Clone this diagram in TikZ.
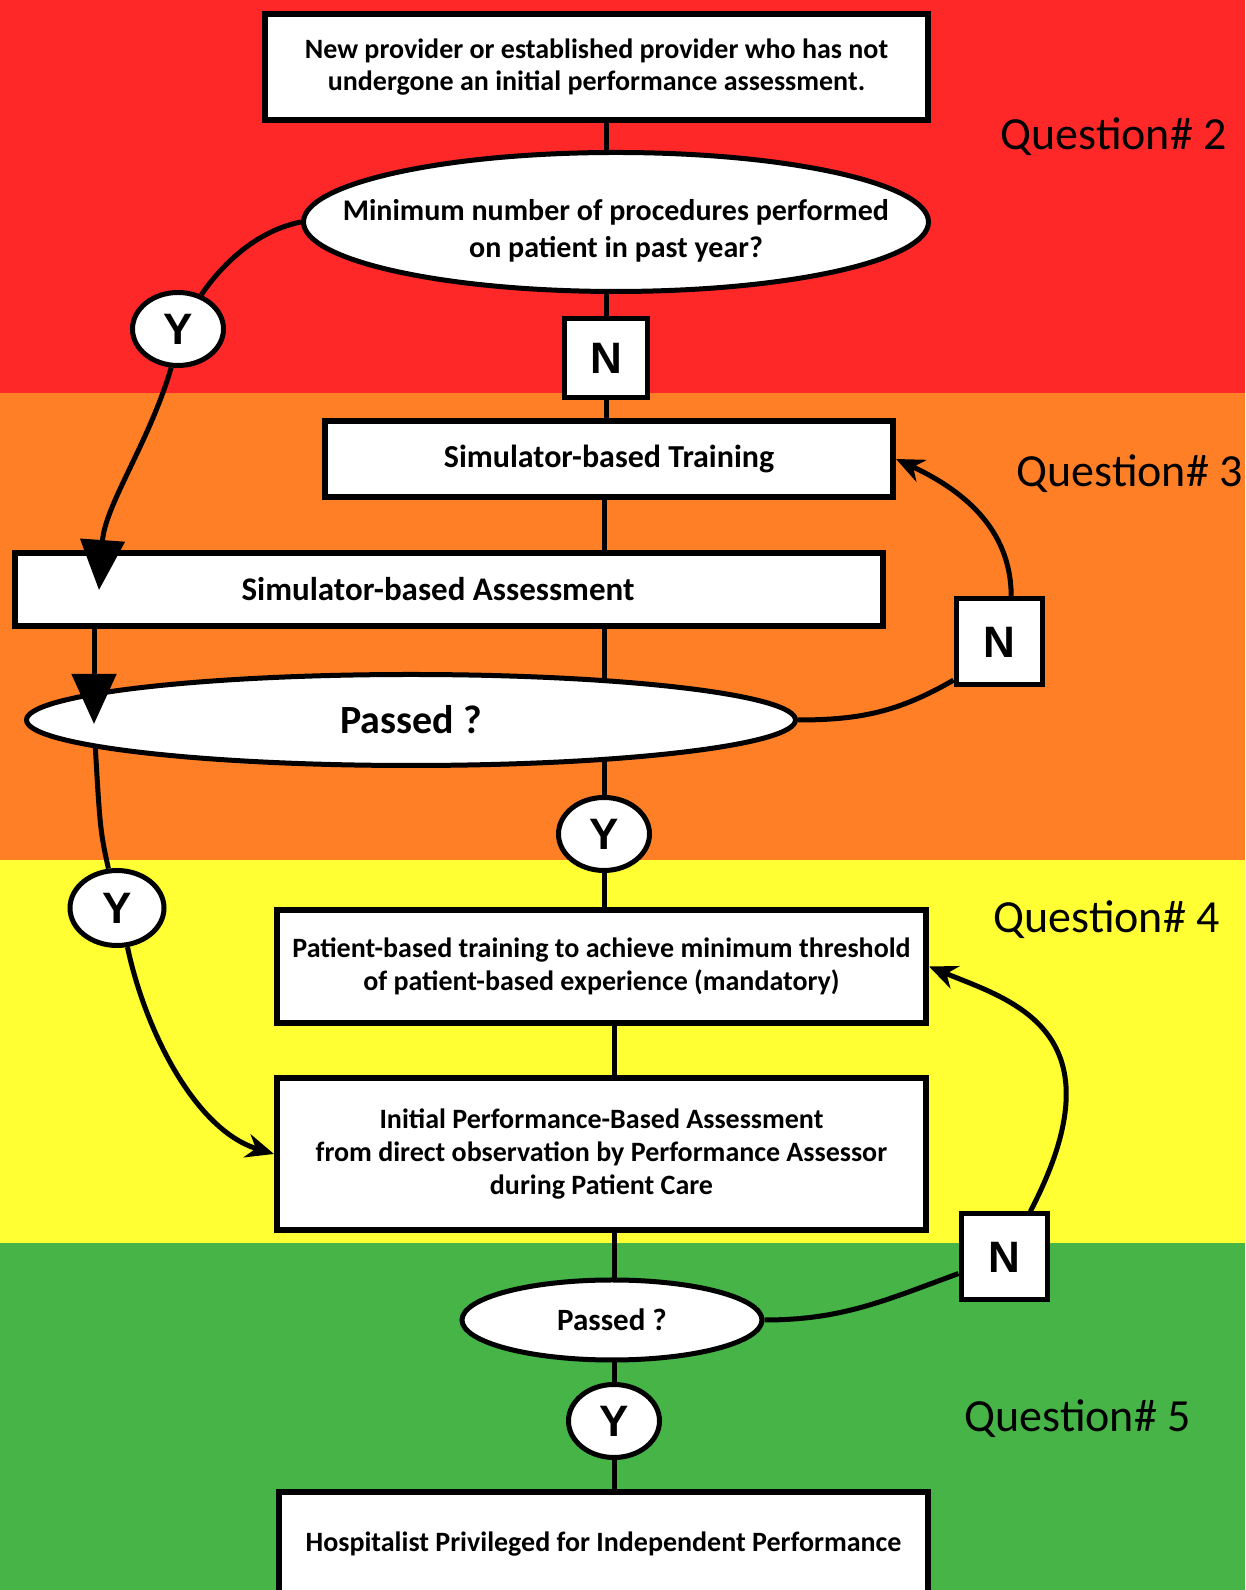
\documentclass[tikz,border=0pt]{standalone}
\usepackage{fontspec}
\setmainfont{Carlito}
\newfontfamily\ynfont{Liberation Sans}
\usetikzlibrary{shapes.geometric,arrows.meta,backgrounds}
\definecolor{bandred}{RGB}{255,40,40}
\definecolor{bandorange}{RGB}{255,127,39}
\definecolor{bandyellow}{RGB}{255,255,51}
\definecolor{bandgreen}{RGB}{70,180,70}
\newcommand\fsz[2]{\fontsize{#1}{#2}\selectfont}

\begin{document}
\begin{tikzpicture}[x=1pt,y=1pt,
  box/.style={draw,fill=white,line width=6pt,inner sep=0pt,align=center},
  oval/.style={draw,fill=white,ellipse,line width=5pt,inner sep=0pt,align=center},
  nbox/.style={draw,fill=white,line width=5pt,inner sep=0pt,minimum width=86pt,minimum height=86pt,font=\ynfont\bfseries\fsz{44}{44}},
  ybub/.style={draw,fill=white,ellipse,line width=5pt,inner sep=0pt,minimum width=91pt,minimum height=73pt,font=\ynfont\bfseries\fsz{44}{44}},
  wire/.style={line width=5pt},
  bigtip/.style={wire,-{Triangle[length=50pt,width=44pt]}},
  smalltip/.style={wire,-{Stealth[length=28pt,width=24pt]}},
  qlabel/.style={anchor=west,font=\fsz{46}{46}}]
  \useasboundingbox (0,0) rectangle (1245,1590);
  \clip (0,0) rectangle (1245,1590);

  % boxes and questions
  \node[box,minimum width=663pt,minimum height=106pt,font=\bfseries\fsz{28}{32}] (start) at (596.5,1523)
    {New provider or established provider who has not\\undergone an initial performance assessment.};
  \node[oval,minimum width=625pt,minimum height=139pt] (minproc) at (616,1368) {};
  \node[align=center,font=\bfseries\fsz{30}{37}] (minproctext) at ([yshift=-9pt]minproc)
    {Minimum number of procedures performed\\on patient in past year?};
  \node[nbox,minimum width=83pt,minimum height=79pt] (n1) at (606,1232) {N};
  \node[ybub] (y1) at (178,1261) {Y};
  \node[box,minimum width=568pt,minimum height=76pt,font=\bfseries\fsz{32}{36}] (train) at (609,1131)
    {Simulator-based Training};
  \node[box,minimum width=868pt,minimum height=73pt,font=\bfseries\fsz{33}{36}] (assess) at (449,1000.5)
    {Simulator-based Assessment\hspace*{22pt}};
  \node[oval,minimum width=769pt,minimum height=91pt,font=\bfseries\fsz{40}{44}] (pass1) at (411,870) {Passed ?};
  \node[nbox] (n2) at (999,948) {N};
  \node[ybub] (y2) at (604,756) {Y};
  \node[ybub,minimum width=94pt,minimum height=75pt] (y3) at (117,682) {Y};
  \node[box,minimum width=649pt,minimum height=113pt,font=\bfseries\fsz{28}{33}] (patient) at (601.5,623.5)
    {Patient-based training to achieve minimum threshold\\of patient-based experience (mandatory)};
  \node[box,minimum width=649pt,minimum height=152pt,font=\bfseries\fsz{28}{33}] (initial) at (601.5,436)
    {Initial Performance-Based Assessment\\from direct observation by Performance Assessor\\during Patient Care};
  \node[oval,minimum width=300pt,minimum height=80pt,font=\bfseries\fsz{31}{35}] (pass2) at (612,270) {Passed ?};
  \node[nbox] (n3) at (1004,333) {N};
  \node[ybub] (y4) at (614,169) {Y};
  \node[box,minimum width=649pt,minimum height=104pt,font=\bfseries\fsz{28}{33}] (final) at (603.5,46)
    {Hospitalist Privileged for Independent Performance};

  \node[qlabel] (qtwo) at (997,1453) {Question\# 2};
  \node[qlabel] (qthree) at (1013,1116) {Question\# 3};
  \node[qlabel] (qfour) at (990,670) {Question\# 4};
  \node[qlabel] (qfive) at (961,171) {Question\# 5};

  \coordinate (tipA) at (99,1000);
  \coordinate (tipB) at (94,866);

  % arrows
  \draw[bigtip] (y1.260) .. controls +(-22,-75) and +(6,85) .. (tipA);
  \draw[bigtip] (tipB |- assess.south) -- (tipB);
  \draw[smalltip] (y3.285) .. controls (145,560) and (195,460) .. (initial.west);
  \draw[wire] (pass1.east) to[out=0,in=210] (n2.220);
  \draw[smalltip] (n2.75) to[out=90,in=-25] (train.east);
  \draw[wire] (pass2.east) to[out=0,in=200] (n3.200);
  \draw[smalltip] (n3.60) .. controls (1125,560) and (1010,590) .. (patient.east);

  \begin{scope}[on background layer]
    \fill[bandred] (0,1197) rectangle (1245,1590);
    \fill[bandorange] (0,730) rectangle (1245,1197);
    \fill[bandyellow] (0,347) rectangle (1245,730);
    \fill[bandgreen] (0,0) rectangle (1245,347);
    \draw[wire] (n1 |- start) -- (n1 |- train);
    \draw[wire] (y2 |- train) -- (y2 |- patient);
    \draw[wire] (y4 |- patient) -- (y4 |- final);
    \draw[wire] (minproc.west) .. controls (260,1360) and (225,1330) .. (y1);
    \draw[wire] (tipB) .. controls (100,760) .. (y3);
  \end{scope}
\end{tikzpicture}
\end{document}
